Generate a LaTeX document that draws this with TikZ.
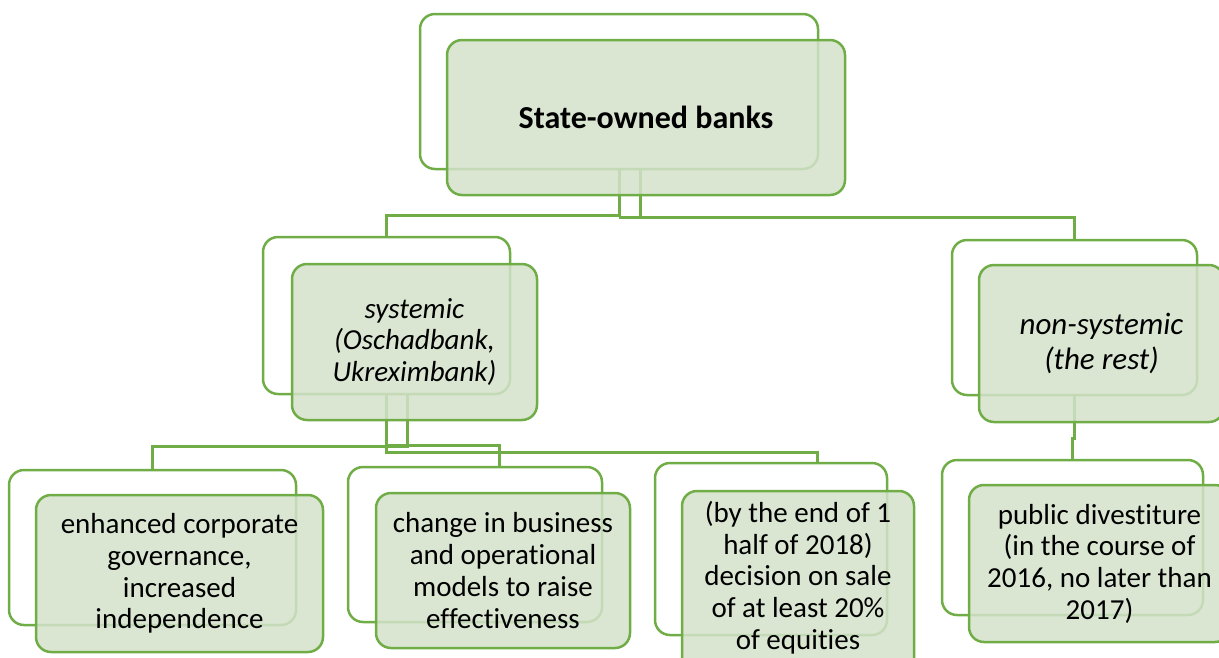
\documentclass[tikz,border=0pt]{standalone}
\usepackage{fontspec}
\setmainfont{Carlito}[Ligatures=NoCommon]
\definecolor{boxline}{RGB}{112,173,71}
\definecolor{boxfill}{RGB}{211,226,202}
\begin{document}
\begin{tikzpicture}[x=1pt,y=-1pt,line width=2.5pt,
back/.style={draw=boxline,rounded corners=15pt,inner sep=0pt},
front/.style={draw=boxline,fill=boxfill,fill opacity=0.85,text opacity=1,rounded corners=15pt,inner sep=0pt,align=center,font=\fontsize{29}{31.7}\selectfont},
link/.style={draw=boxline,line width=3pt}]
\useasboundingbox(0,0)rectangle(1219,657);
\clip(0,0)rectangle(1219,657);
\node[back,minimum width=398pt,minimum height=155pt](topB)at(619,91.5){};
\node[back,minimum width=247pt,minimum height=157pt](sysB)at(386.5,315.5){};
\node[back,minimum width=245pt,minimum height=155pt](nsysB)at(1074.5,317.5){};
\node[back,minimum width=287pt,minimum height=155pt](aB)at(152.5,547.5){};
\node[back,minimum width=254pt,minimum height=155pt](bB)at(475,544.5){};
\node[back,minimum width=232pt,minimum height=172pt](cB)at(771,549){};
\node[back,minimum width=261pt,minimum height=155pt](dB)at(1072.5,537.5){};
\coordinate(k1)at(619,215);\coordinate(k2)at(640,217);
\draw[link](topB.south)--(k1)-|(sysB.north);
\draw[link](k2|-topB.south)--(k2)--(topB.south|-k2)-|(nsysB.north);
\coordinate(j1)at(407,446);\coordinate(j2)at(499,445);\coordinate(j3)at(817,452);
\draw[link](j1|-sysB.south)--(j1)-|(aB.north);
\draw[link](sysB.south|-j2)--(j2)--(j2|-bB.north);
\draw[link](sysB.south)|-(j3)--(j3|-cB.north);
\draw[link](nsysB.south)--++(0,42)-|(dB.north);
\node[front,font=\fontsize{32}{38}\selectfont\bfseries,minimum width=398pt,minimum height=155pt](topF)at(646,117.5){State-owned banks};
\node[front,font=\fontsize{29}{31.7}\selectfont\itshape,minimum width=245pt,minimum height=156pt](sysF)at(414.5,342){systemic\\(Oschadbank,\\Ukreximbank)};
\node[front,font=\fontsize{31}{35}\selectfont\itshape,minimum width=245pt,minimum height=157pt](nsysF)at(1101.5,343.5){non-systemic\\(the rest)};
\node[front,minimum width=287pt,minimum height=157pt](aF)at(179.5,573.5){enhanced corporate\\governance,\\increased\\independence};
\node[front,minimum width=254pt,minimum height=155pt](bF)at(503,570.5){change in business\\and operational\\models to raise\\effectiveness};
\node[front,minimum width=232pt,minimum height=200pt](cF)at(798,591){(by the end of 1\\half of 2018)\\decision on sale\\of at least 20\%\\of equities\\\mbox{}};
\node[front,minimum width=261pt,minimum height=157pt](dF)at(1099.5,563.5){public divestiture\\(in the course of\\2016, no later than\\2017)};
\end{tikzpicture}
\end{document}
